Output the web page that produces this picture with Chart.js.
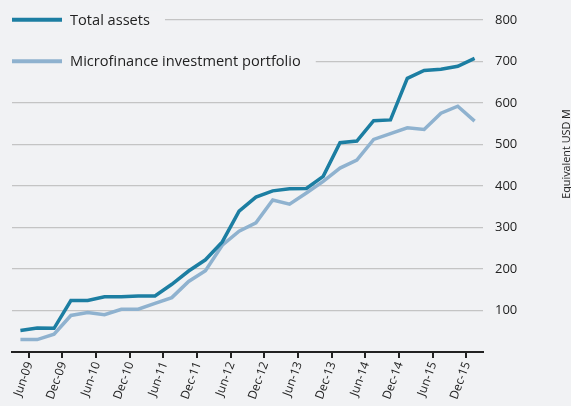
<!DOCTYPE html>
<html><head><meta charset="utf-8">
<script src="https://cdn.jsdelivr.net/npm/chart.js@4"></script>
<style>html,body{margin:0;padding:0;background:#f1f2f4;overflow:hidden}#wrap{width:571px;height:406px;position:relative}</style>
</head><body><div id="wrap"><canvas id="c" width="571" height="406"></canvas></div>
<script>
const quarters = ['Mar-09','Jun-09','Sep-09','Dec-09','Mar-10','Jun-10','Sep-10','Dec-10','Mar-11','Jun-11','Sep-11','Dec-11','Mar-12','Jun-12','Sep-12','Dec-12','Mar-13','Jun-13','Sep-13','Dec-13','Mar-14','Jun-14','Sep-14','Dec-14','Mar-15','Jun-15','Sep-15','Dec-15'];
const tickLabels = ['Jun-09','Dec-09','Jun-10','Dec-10','Jun-11','Dec-11','Jun-12','Dec-12','Jun-13','Dec-13','Jun-14','Dec-14','Jun-15','Dec-15'];
const totalAssets = [52,58,57,124,124,133,133,135,135,163,195,222,265,339,373,388,393,394,423,504,508,557,559,659,678,681,688,707];
const microfinance = [30,30,43,88,95,90,103,103,117,131,170,196,257,291,311,366,356,383,411,443,462,512,526,540,536,575,592,556];
const seriesNames = ['Total assets','Microfinance investment portfolio'];
const yTickValues = [100,200,300,400,500,600,700,800];
const yTitle = 'Equivalent USD M';

const BG = '#f1f2f4';
const DARK = '#1c7ea2';
const LIGHT = '#8fb2cf';

const bgPlugin = {
  id: 'bg',
  beforeDraw(chart) {
    const ctx = chart.ctx;
    ctx.save(); ctx.fillStyle = BG; ctx.fillRect(0,0,chart.width,chart.height); ctx.restore();
  }
};

const legendPlugin = {
  id: 'customLegend',
  afterDraw(chart) {
    const ctx = chart.ctx, ca = chart.chartArea, y = chart.scales.y;
    const rows = [y.getPixelForValue(800), y.getPixelForValue(700)];
    ctx.save();
    ctx.font = '14.6px "Open Sans"';
    ctx.textBaseline = 'middle';
    chart.data.datasets.forEach((ds, i) => {
      const ry = rows[i];
      const tw = ctx.measureText(ds.label).width;
      ctx.fillStyle = BG;
      ctx.fillRect(ca.left, ry - 9, 58 + tw + 15, 18);
      ctx.strokeStyle = ds.borderColor;
      ctx.lineWidth = 4;
      ctx.beginPath(); ctx.moveTo(ca.left, ry); ctx.lineTo(ca.left + 50, ry); ctx.stroke();
      ctx.fillStyle = '#222';
      ctx.fillText(ds.label, ca.left + 58, ry + 1);
    });
    ctx.restore();
  }
};

const titlePlugin = {
  id: 'yTitle',
  afterDraw(chart) {
    const ctx = chart.ctx;
    ctx.save();
    ctx.translate(570, 154);
    ctx.rotate(-Math.PI/2);
    ctx.font = '10.8px "Open Sans"';
    ctx.fillStyle = '#222';
    ctx.textAlign = 'center';
    ctx.textBaseline = 'alphabetic';
    ctx.fillText(yTitle, 0, 0);
    ctx.restore();
  }
};

new Chart(document.getElementById('c'), {
  type: 'line',
  data: {
    labels: quarters,
    datasets: [
      { label: seriesNames[0], data: totalAssets, borderColor: DARK, borderWidth: 3.5, pointRadius: 0, tension: 0, fill: false },
      { label: seriesNames[1], data: microfinance, borderColor: LIGHT, borderWidth: 3.5, pointRadius: 0, tension: 0, fill: false }
    ]
  },
  options: {
    responsive: false,
    animation: false,
    devicePixelRatio: 1,
    layout: { padding: { left: 12, top: 14, right: 0, bottom: 0 } },
    plugins: { legend: { display: false }, tooltip: { enabled: false } },
    scales: {
      x: {
        type: 'category',
        offset: true,
        afterFit(s) { s.height = 54; },
        border: { display: true, color: '#222', width: 2 },
        grid: {
          offset: true, drawOnChartArea: false, drawTicks: true, tickLength: 6, lineWidth: 2,
          color: (c) => (c.index !== undefined && tickLabels.includes(quarters[c.index])) ? '#222' : 'rgba(0,0,0,0)'
        },
        ticks: {
          autoSkip: false, minRotation: 70, maxRotation: 70, padding: 2, labelOffset: -7.5,
          color: '#222', font: { family: '"Open Sans"', size: 12 },
          callback: (v, i) => tickLabels.includes(quarters[i]) ? quarters[i] : ''
        }
      },
      y: {
        position: 'right',
        min: 0, max: 800,
        afterFit(s) { s.width = 88; },
        afterBuildTicks(s) { s.ticks = [0].concat(yTickValues).map(v => ({ value: v })); },
        border: { display: false },
        grid: { drawTicks: false, lineWidth: 1.2, color: (c) => c.tick && c.tick.value === 0 ? 'rgba(0,0,0,0)' : '#c4c4c4' },
        ticks: { padding: 12, color: '#222', font: { family: '"Open Sans"', size: 13 },
          callback: (v) => v === 0 ? '' : String(v) }
      }
    }
  },
  plugins: [bgPlugin, legendPlugin, titlePlugin]
});
</script>
</body></html>
